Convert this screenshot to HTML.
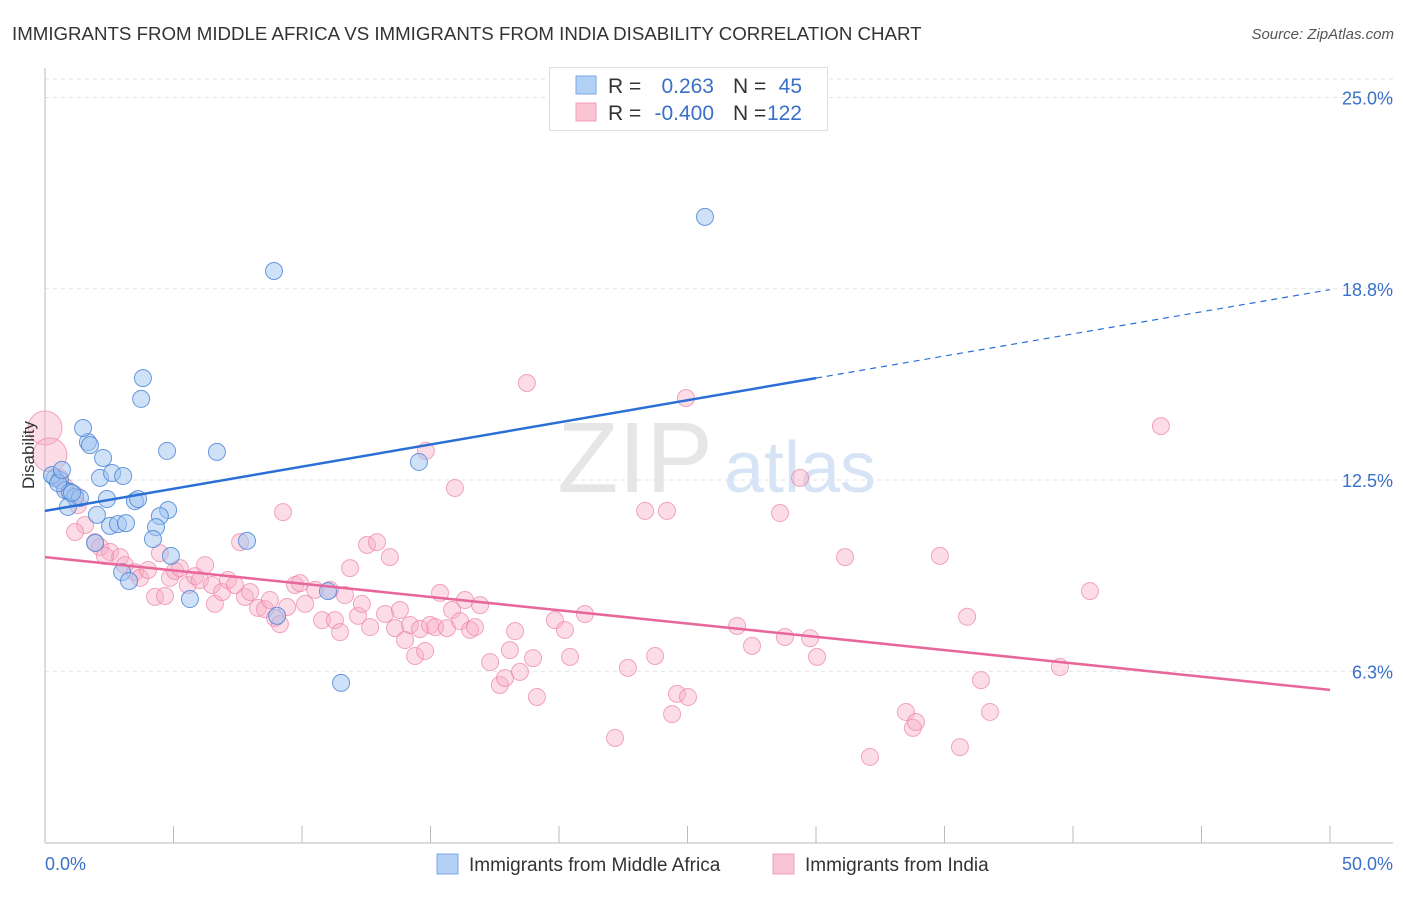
<!DOCTYPE html>
<html><head><meta charset="utf-8"><style>
body{margin:0;background:#fff;font-family:"Liberation Sans",sans-serif;}
svg text{font-family:"Liberation Sans",sans-serif;}
</style></head><body>
<svg id="chart" width="1406" height="892" xmlns="http://www.w3.org/2000/svg">
<text x="12" y="40" font-size="18.7" fill="#333">IMMIGRANTS FROM MIDDLE AFRICA VS IMMIGRANTS FROM INDIA DISABILITY CORRELATION CHART</text>
<text x="1394" y="39" font-size="15" fill="#555" font-style="italic" text-anchor="end">Source: ZipAtlas.com</text>
<text x="635" y="492" font-size="100" fill="#e6e6e6" font-family="Liberation Serif" text-anchor="middle">ZIP</text>
<text x="800" y="492" font-size="72" fill="#d6e4f5" text-anchor="middle">atlas</text>
<g id="grid"></g>
<g id="axes"></g>
<g id="pts"></g>
<g id="lines"></g>
<text x="34" y="455" font-size="17" fill="#333" text-anchor="middle" transform="rotate(-90 34 455)">Disability</text>
<g>
<rect x="549.5" y="67.5" width="278" height="63" fill="#fff" stroke="#ddd"/>
<rect x="576" y="76" width="20" height="18" fill="#b3d0f5" stroke="#7aa8e6"/>
<rect x="576" y="103" width="20" height="18" fill="#f9c4d4" stroke="#f0a0b8"/>
<text x="608" y="93" font-size="21" fill="#333">R =</text>
<text x="714" y="93" font-size="21" fill="#3a70c8" text-anchor="end">0.263</text>
<text x="733" y="93" font-size="21" fill="#333">N =</text>
<text x="802" y="93" font-size="21" fill="#3a70c8" text-anchor="end">45</text>
<text x="608" y="120" font-size="21" fill="#333">R =</text>
<text x="714" y="120" font-size="21" fill="#3a70c8" text-anchor="end">-0.400</text>
<text x="733" y="120" font-size="21" fill="#333">N =</text>
<text x="802" y="120" font-size="21" fill="#3a70c8" text-anchor="end">122</text>
</g>
<g>
<rect x="437" y="854" width="21" height="20" fill="#b3d0f5" stroke="#7aa8e6"/>
<text x="469" y="871" font-size="19" fill="#333">Immigrants from Middle Africa</text>
<rect x="773" y="854" width="21" height="20" fill="#f9c4d4" stroke="#f0a0b8"/>
<text x="805" y="871" font-size="19" fill="#333">Immigrants from India</text>
</g>
</svg>
<script>
const blueX=[0.39,0.58,0.78,0.97,1.17,1.36,1.67,1.75,1.48,2.26,2.14,2.61,3.04,2.41,2.02,0.89,2.53,2.84,3.15,3.50,3.62,3.81,3.74,4.75,4.79,4.47,4.32,4.20,4.90,3.00,3.27,5.64,6.69,7.86,8.91,25.68,14.55,11.01,11.52,9.03,1.95,0.27,0.51,1.05,0.66];
const blueY=[12.57,12.50,12.17,12.11,11.94,11.91,13.74,13.64,14.20,13.22,12.57,12.73,12.63,11.88,11.36,11.62,11.00,11.06,11.09,11.81,11.88,15.83,15.15,13.45,11.52,11.32,10.96,10.57,10.02,9.49,9.20,8.61,13.42,10.51,19.33,21.10,13.09,8.87,5.87,8.06,10.44,12.66,12.40,12.08,12.83];
const pinkX=[0,0.19,0.58,0.78,1.17,1.28,1.56,1.17,1.95,2.14,2.53,2.92,2.33,3.11,3.50,3.70,4.01,4.28,4.47,4.67,4.86,5.06,5.25,5.56,5.84,6.03,6.23,6.50,6.61,6.89,7.12,7.39,7.59,7.78,7.98,8.29,8.56,8.75,8.95,9.14,9.26,9.42,9.73,9.92,10.12,10.51,10.78,11.09,11.28,11.48,11.67,11.87,12.18,12.33,12.53,12.65,12.92,13.23,13.42,13.62,13.81,14.01,14.20,14.40,14.59,14.79,14.98,15.18,14.82,15.37,15.64,15.84,15.95,16.15,16.34,16.54,16.73,16.93,17.32,17.70,17.90,18.09,18.29,18.48,18.75,18.99,19.14,19.84,20.23,20.43,21.01,22.18,22.68,23.35,23.74,24.20,24.40,24.59,24.94,25.02,26.93,27.51,28.60,28.79,29.38,29.77,30.04,31.13,32.10,33.50,33.77,33.89,34.82,35.60,35.88,36.42,36.77,39.49,40.66,43.42];
const pinkY=[14.20,13.32,12.57,12.27,12.01,11.68,11.03,10.80,10.47,10.31,10.15,9.98,10.02,9.72,9.49,9.30,9.56,8.68,10.11,8.71,9.30,9.53,9.62,9.07,9.36,9.23,9.72,9.07,8.45,8.84,9.23,9.07,10.47,8.68,8.84,8.32,8.28,8.58,7.99,7.79,11.45,8.35,9.07,9.13,8.45,8.91,7.92,8.91,7.92,7.53,8.74,9.62,8.06,8.45,10.38,7.69,10.47,8.12,9.98,7.66,8.25,7.27,7.76,6.75,7.63,6.91,7.76,7.69,13.45,8.81,7.66,8.25,12.24,7.89,8.58,7.60,7.69,8.41,6.55,5.80,6.03,6.94,7.56,6.23,15.67,6.68,5.41,7.92,7.60,6.72,8.12,4.07,6.36,11.49,6.75,11.49,4.85,5.51,15.18,5.41,7.73,7.08,11.42,7.37,12.57,7.33,6.72,9.98,3.45,4.92,4.40,4.59,10.02,3.77,8.03,5.96,4.92,6.39,8.87,14.26];
const blueTrend=[11.49,15.83,18.72]; // at x=0,30,50
const pinkTrend=[9.98,5.64]; // at x=0,50
const yTicks=[25.0,18.75,12.5,6.25];
const yTickLabels=["25.0%","18.8%","12.5%","6.3%"];
const xTicks=[0,5,10,15,20,25,30,35,40,45,50];

const NS="http://www.w3.org/2000/svg";
const sx=v=>45+v*25.7;
const sy=v=>862.5-v*30.6;
function mk(tag,attrs,parent){const e=document.createElementNS(NS,tag);for(const k in attrs)e.setAttribute(k,attrs[k]);parent.appendChild(e);return e;}
const grid=document.getElementById('grid'),axes=document.getElementById('axes'),pts=document.getElementById('pts'),lines=document.getElementById('lines');
let g=mk('line',{x1:45,x2:1393,y1:79,y2:79,stroke:'#e2e2e2','stroke-dasharray':'4,4'},grid);


yTicks.forEach((t,i)=>{
  const l=mk('line',{x1:45,x2:1393,y1:sy(t),y2:sy(t),stroke:'#e2e2e2','stroke-dasharray':'4,4'},grid);
  
  
  const tx=mk('text',{x:1393,y:sy(t)+7,'font-size':18,fill:'#3a70c8','text-anchor':'end'},axes);
  tx.textContent=yTickLabels[i];
  
  
});
let a=mk('line',{x1:45,x2:45,y1:68,y2:843,stroke:'#bbb'},axes);


a=mk('line',{x1:45,x2:1393,y1:843,y2:843,stroke:'#bbb'},axes);


xTicks.forEach(t=>{
  const l=mk('line',{x1:sx(t),x2:sx(t),y1:826,y2:843,stroke:'#bbb'},axes);
  
  
});
let t0=mk('text',{x:45,y:870,'font-size':18,fill:'#3a70c8'},axes);t0.textContent="0.0%";


let t1=mk('text',{x:1393,y:870,'font-size':18,fill:'#3a70c8','text-anchor':'end'},axes);t1.textContent="50.0%";



pinkX.forEach((x,i)=>{
  const c=mk('circle',{cx:sx(x),cy:sy(pinkY[i]),r:i<2?17:8.5,fill:'rgba(248,175,198,0.42)',stroke:'rgba(236,130,165,0.7)','stroke-width':1},pts);
  
  
});
blueX.forEach((x,i)=>{
  const c=mk('circle',{cx:sx(x),cy:sy(blueY[i]),r:8.5,fill:'rgba(160,196,240,0.5)',stroke:'rgba(70,130,215,0.8)','stroke-width':1},pts);
  
  
});
let ln=mk('line',{x1:sx(0),y1:sy(blueTrend[0]),x2:sx(30),y2:sy(blueTrend[1]),stroke:'#2a6fd6','stroke-width':2.5},lines);


ln=mk('line',{x1:sx(30),y1:sy(blueTrend[1]),x2:sx(50),y2:sy(blueTrend[2]),stroke:'#2a6fd6','stroke-width':1.2,'stroke-dasharray':'6,5'},lines);


ln=mk('line',{x1:sx(0),y1:sy(pinkTrend[0]),x2:sx(50),y2:sy(pinkTrend[1]),stroke:'#e8679a','stroke-width':2.5},lines);


</script>
</body></html>
